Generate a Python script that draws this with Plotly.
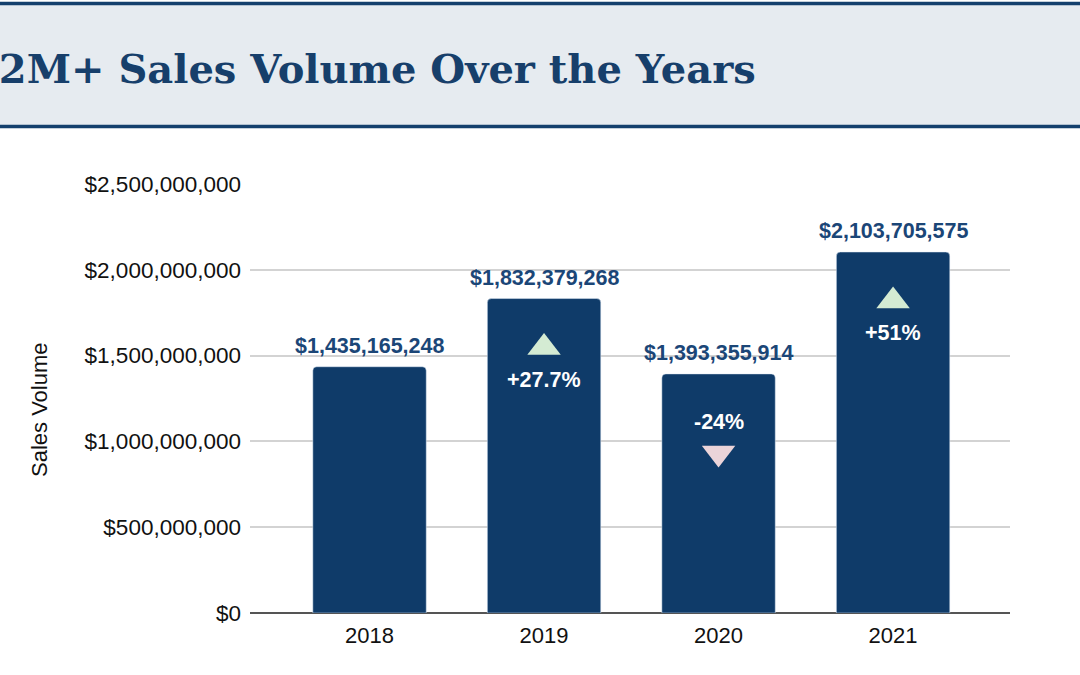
import plotly.graph_objects as go

# ---- data ----
years = ["2018", "2019", "2020", "2021"]
sales = [1435165248, 1832379268, 1393355914, 2103705575]
value_labels = ["$1,435,165,248", "$1,832,379,268", "$1,393,355,914", "$2,103,705,575"]
change_years = ["2019", "2020", "2021"]
change_labels = ["+27.7%", "-24%", "+51%"]
change_dirs = ["up", "down", "up"]
tick_vals = [0, 500000000, 1000000000, 1500000000, 2000000000, 2500000000]
tick_text = ["$0", "$500,000,000", "$1,000,000,000", "$1,500,000,000",
             "$2,000,000,000", "$2,500,000,000"]
title_text = "$2M+ Sales Volume Over the Years"
y_title = "Sales Volume"

# ---- layout constants ----
W, H = 1080, 675
ML, MR, MT, MB = 250, 70, 184, 62
PW, PH = W - ML - MR, H - MT - MB
YMAX = 2500000000
px2val = YMAX / PH

BAR = "#0f3b69"
LABEL = "#1b4677"
UP = "#d4ebd3"
DOWN = "#ebd4d9"
FONT = "Liberation Sans, Arial, sans-serif"

def px_x(x):
    return (x - ML) / PW

def px_y(y):
    return (H - MB - y) / PH

fig = go.Figure()
fig.add_trace(go.Bar(
    x=years, y=sales, marker_color=BAR, width=0.65,
    hoverinfo="skip", showlegend=False,
))

# triangles
val = dict(zip(years, sales))
idx = {yr: i for i, yr in enumerate(years)}
tx, ty, tsym, tcol = [], [], [], []
for yr, d in zip(change_years, change_dirs):
    tx.append(yr)
    if d == "up":
        ty.append(val[yr] - 49 * px2val)
        tsym.append("triangle-up")
        tcol.append(UP)
    else:
        ty.append(val[yr] - 79 * px2val)
        tsym.append("triangle-down")
        tcol.append(DOWN)
fig.add_trace(go.Scatter(
    x=tx, y=ty, mode="markers",
    marker=dict(symbol=tsym, color=tcol, size=29, line=dict(width=0)),
    hoverinfo="skip", showlegend=False,
))

annotations = []
for yr, v, lab in zip(years, sales, value_labels):
    annotations.append(dict(
        x=idx[yr], y=v, xref="x", yref="y", text=lab, showarrow=False,
        yanchor="bottom", yshift=7,
        font=dict(family=FONT, size=21.5, color=LABEL, weight="bold"),
    ))
for yr, lab, d in zip(change_years, change_labels, change_dirs):
    shift = -81 if d == "up" else -48
    annotations.append(dict(
        x=idx[yr], y=val[yr], xref="x", yref="y", text=lab, showarrow=False,
        yanchor="middle", yshift=shift,
        font=dict(family=FONT, size=21.5, color="white", weight="bold"),
    ))
# y-axis title
annotations.append(dict(
    x=px_x(39), y=px_y(410), xref="paper", yref="paper", text=y_title,
    textangle=-90, showarrow=False, xanchor="center", yanchor="middle",
    font=dict(family=FONT, size=22, color="#111111"),
))
# header title
annotations.append(dict(
    x=px_x(758), y=px_y(68), xref="paper", yref="paper", text=title_text,
    showarrow=False, xanchor="right", yanchor="middle",
    font=dict(family="DejaVu Serif, serif", size=40, color="#173f6b", weight="bold"),
))

shapes = [
    dict(type="rect", xref="paper", yref="paper",
         x0=px_x(-5), x1=px_x(W + 5), y0=px_y(126), y1=px_y(4),
         fillcolor="#e6ebf0", line=dict(width=0), layer="below"),
    dict(type="line", xref="paper", yref="paper",
         x0=px_x(-5), x1=px_x(W + 5), y0=px_y(3.5), y1=px_y(3.5),
         line=dict(color="#14406d", width=3.5)),
    dict(type="line", xref="paper", yref="paper",
         x0=px_x(-5), x1=px_x(W + 5), y0=px_y(126.5), y1=px_y(126.5),
         line=dict(color="#14406d", width=3.5)),
]

fig.update_layout(
    width=W, height=H,
    margin=dict(l=ML, r=MR, t=MT, b=MB, pad=0),
    paper_bgcolor="white", plot_bgcolor="white",
    font=dict(family=FONT, size=22, color="#111111"),
    barcornerradius=4,
    annotations=annotations, shapes=shapes,
    xaxis=dict(type="category", range=[-0.685, 3.67], autorange=False,
               showgrid=False, showline=False, ticks="", ticklabelstandoff=7,
               tickfont=dict(size=22, color="#111111"), fixedrange=True),
    yaxis=dict(range=[0, YMAX], autorange=False, tickvals=tick_vals, ticktext=tick_text,
               showgrid=True, gridcolor="#d3d3d3", gridwidth=1.5,
               zeroline=True, zerolinecolor="#555555", zerolinewidth=2,
               showline=False, ticks="", ticklabelstandoff=8,
               tickfont=dict(size=22.5, color="#111111"), fixedrange=True),
)

fig.write_html("out.html", config={"displayModeBar": False})
